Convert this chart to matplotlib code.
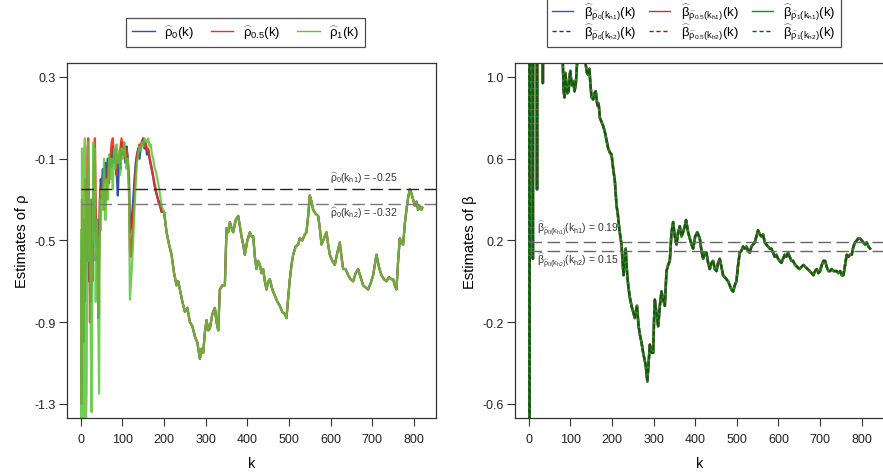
import matplotlib
matplotlib.use('Agg')
import matplotlib.pyplot as plt
from matplotlib.lines import Line2D

plt.rcParams['font.family'] = ['Liberation Sans', 'DejaVu Sans']
plt.rcParams['mathtext.fontset'] = 'custom'
plt.rcParams['mathtext.rm'] = 'Liberation Sans'
plt.rcParams['mathtext.it'] = 'Liberation Sans'
plt.rcParams['mathtext.bf'] = 'Liberation Sans:bold'

# ---- datos: estimaciones de rho (panel izquierdo) ----
head_k = [1, 2, 3, 4, 5, 6, 8, 10, 12, 14, 16, 18, 20, 22, 24, 26, 28, 30, 32, 34,
          36, 38, 40, 42, 44, 46, 48, 50,
          53, 56, 59, 62, 65, 68, 71, 74, 77, 80, 83, 86, 89, 92, 95, 98, 101, 104,
          107, 110, 113, 116, 118, 120,
          123, 126, 129, 132, 135, 138, 141, 144, 147, 150, 153, 156, 159, 162, 165,
          168, 171, 174, 177, 180,
          183, 186, 190, 194]

rho0_head = [-0.70, -1.20, -0.50, -0.90, -0.60, -1.00, -0.50, -0.80, -0.40, -0.60,
             -0.30, -0.50, -0.70, -0.55, -0.80, -0.70, -0.50, -0.60, -0.30, -0.45,
             -0.35, -0.50, -0.40, -0.88, -0.55, -0.30, -0.20, -0.25,
             -0.15, -0.22, -0.12, -0.20, -0.10, -0.17, -0.08, -0.14, -0.04, -0.12,
             -0.06, -0.16, -0.28, -0.10, -0.15, -0.02, -0.08, -0.05, -0.12, -0.04,
             -0.10, -0.20, -0.46, -0.44,
             -0.38, -0.30, -0.20, -0.12, -0.08, -0.05, -0.10, -0.04, -0.02, 0.00,
             -0.05, -0.03, -0.08, -0.06, -0.10, -0.13, -0.16, -0.19, -0.23, -0.26,
             -0.28, -0.30, -0.32, -0.36]

rho05_head = [-0.60, -1.30, -0.30, -0.90, -0.50, -0.80, -0.40, -0.70, -0.20, -0.50,
              -0.05, 0.00, -0.40, -0.90, -0.60, -0.30, -0.70, -0.20, -0.10, 0.00,
              -0.30, -0.60, -0.50, -0.85, -0.60, -0.30, -0.25, -0.30,
              -0.20, -0.35, -0.25, -0.30, -0.15, -0.22, -0.10, -0.02, 0.00, -0.10,
              -0.05, -0.18, -0.08, -0.12, -0.05, 0.00, -0.06, -0.02, -0.10, -0.05,
              -0.12, -0.25, -0.55, -0.58,
              -0.50, -0.38, -0.25, -0.15, -0.08, -0.06, -0.03, -0.05, -0.01, -0.02,
              -0.04, -0.02, -0.06, -0.05, -0.09, -0.12, -0.15, -0.19, -0.22, -0.25,
              -0.28, -0.31, -0.33, -0.36]

rho1_head = [-0.45, -1.45, -0.05, -1.20, -0.40, -1.45, -0.10, 0.00, -1.45, -1.23,
             -0.30, -0.02, -0.60, -0.30, -1.00, -1.34, -0.70, -0.02, -0.50, -0.05,
             -0.80, -0.40, -0.50, -0.90, -1.25, -0.30, -0.45, -0.25,
             -0.35, -0.10, -0.40, -0.20, -0.30, -0.08, -0.20, -0.10, -0.25, -0.05,
             -0.15, -0.03, -0.12, -0.06, -0.18, -0.05, -0.10, -0.02, -0.08, -0.15,
             -0.10, -0.30, -0.79, -0.72,
             -0.62, -0.50, -0.35, -0.22, -0.12, -0.08, -0.04, -0.06, -0.02, -0.04,
             0.00, -0.01, -0.02, 0.00, -0.04, -0.03, -0.08, -0.10, -0.14, -0.16,
             -0.19, -0.22, -0.27, -0.33]

# a partir de k=200 las tres curvas casi coinciden
tail_k = [200, 206, 212, 218, 224, 230, 234, 238, 244, 250,
          256, 262, 268, 274, 280, 286, 290, 294, 298, 302,
          306, 310, 316, 322, 326, 330, 334, 340, 346, 350,
          354, 358, 362, 366, 372, 378, 382, 386, 390, 394,
          400, 406, 410, 414, 418, 422, 426, 430, 434, 438,
          442, 446, 450, 454, 460, 466, 472, 478, 484, 490,
          494, 498, 502, 506, 510, 516, 522, 526, 532, 538,
          542, 546, 550, 554, 558, 564, 570, 574, 578, 584,
          590, 594, 598, 604, 610, 616, 622, 626, 630, 636,
          642, 648, 654, 660, 666, 672, 678, 684, 690, 696,
          702, 706, 710, 716, 722, 728, 734, 740, 746, 750,
          754, 758, 762, 766, 770, 774, 778, 782, 786, 790,
          794, 798, 802, 806, 810, 814, 818, 820]

rho_tail = [-0.36, -0.46, -0.52, -0.57, -0.66, -0.72, -0.70, -0.74, -0.80, -0.85,
            -0.83, -0.90, -0.92, -0.97, -1.00, -1.08, -1.03, -1.05, -0.95, -0.89,
            -0.94, -0.93, -0.86, -0.83, -0.90, -0.94, -0.74, -0.72, -0.72, -0.44,
            -0.46, -0.41, -0.44, -0.46, -0.40, -0.38, -0.43, -0.48, -0.52, -0.57,
            -0.50, -0.46, -0.48, -0.48, -0.58, -0.64, -0.60, -0.62, -0.66, -0.64,
            -0.70, -0.74, -0.70, -0.69, -0.74, -0.77, -0.80, -0.82, -0.85, -0.86,
            -0.88, -0.78, -0.69, -0.62, -0.57, -0.53, -0.52, -0.49, -0.50, -0.47,
            -0.46, -0.38, -0.28, -0.31, -0.35, -0.37, -0.38, -0.44, -0.52, -0.49,
            -0.46, -0.52, -0.57, -0.60, -0.62, -0.56, -0.51, -0.58, -0.64, -0.64,
            -0.67, -0.69, -0.70, -0.66, -0.64, -0.68, -0.72, -0.73, -0.74, -0.71,
            -0.67, -0.62, -0.57, -0.63, -0.67, -0.69, -0.70, -0.68, -0.69, -0.69,
            -0.72, -0.74, -0.60, -0.49, -0.51, -0.52, -0.42, -0.35, -0.29, -0.25,
            -0.27, -0.30, -0.33, -0.31, -0.35, -0.33, -0.35, -0.34]

rho_kh1 = -0.25
rho_kh2 = -0.32

# ---- datos: estimaciones de beta (panel derecho) ----
beta_k = [1, 2, 3, 4, 6, 9, 10, 11, 15, 19,
          20, 21, 26, 33, 34, 35, 45, 60, 75, 80,
          84, 86, 88, 90, 93, 96, 98, 100, 103, 107,
          110, 113, 116, 120, 125, 130, 134, 137, 140, 143,
          146, 148, 151, 155, 158, 161, 165, 168, 171, 175,
          179, 183, 187, 191, 195, 199, 203, 207, 211, 214,
          217, 220, 223, 226, 228, 230, 233, 236, 239, 243,
          247, 251, 255, 258, 260, 264, 267, 271, 275, 278,
          281, 285, 288, 291, 295, 299, 301, 303, 307, 311,
          315, 319, 323, 327, 331, 335, 339, 343, 347, 351,
          355, 359, 363, 367, 371, 375, 378, 383, 387, 391,
          395, 400, 405, 411, 415, 419, 423, 427, 431, 435,
          439, 443, 447, 451, 455, 459, 463, 467, 471, 475,
          479, 483, 487, 491, 495, 499, 503, 507, 511, 515,
          519, 523, 527, 531, 535, 539, 543, 547, 551, 555,
          559, 563, 567, 571, 575, 579, 583, 587, 591, 595,
          599, 603, 607, 611, 615, 619, 623, 627, 631, 635,
          640, 645, 650, 655, 660, 665, 670, 675, 680, 684,
          688, 692, 696, 700, 704, 708, 712, 716, 720, 724,
          728, 732, 736, 740, 744, 748, 752, 756, 760, 764,
          768, 772, 776, 780, 784, 788, 792, 796, 800, 804,
          808, 812, 816, 820]

beta_est = [3.00, -2.00, 3.00, 1.80, 2.00, 1.50, 0.11, 1.60, 1.80, 1.50,
            0.45, 1.60, 2.00, 1.50, 0.97, 1.40, 1.80, 1.60, 1.50, 1.20,
            0.93, 0.90, 1.02, 0.98, 0.92, 0.93, 1.00, 1.03, 0.96, 0.98,
            0.93, 0.96, 1.06, 1.15, 1.25, 1.20, 1.12, 1.06, 1.02, 1.01,
            1.04, 0.97, 0.90, 0.89, 0.92, 0.93, 0.86, 0.87, 0.80, 0.78,
            0.76, 0.73, 0.69, 0.65, 0.63, 0.62, 0.55, 0.49, 0.37, 0.33,
            0.27, 0.22, 0.18, 0.08, 0.03, 0.10, 0.16, 0.05, -0.02, -0.08,
            -0.12, -0.15, -0.18, -0.14, -0.12, -0.22, -0.26, -0.30, -0.35, -0.38,
            -0.41, -0.49, -0.40, -0.31, -0.35, -0.35, -0.20, -0.09, -0.16, -0.22,
            -0.12, -0.05, -0.09, -0.12, 0.05, 0.08, 0.10, 0.24, 0.29, 0.22,
            0.18, 0.24, 0.27, 0.22, 0.24, 0.27, 0.30, 0.24, 0.21, 0.18,
            0.16, 0.22, 0.24, 0.21, 0.15, 0.11, 0.14, 0.14, 0.09, 0.06,
            0.09, 0.10, 0.06, 0.05, 0.09, 0.11, 0.07, 0.03, 0.02, 0.01,
            0.00, -0.02, -0.04, -0.05, -0.02, 0.00, 0.08, 0.14, 0.15, 0.17,
            0.16, 0.17, 0.15, 0.14, 0.17, 0.18, 0.19, 0.22, 0.25, 0.23,
            0.22, 0.23, 0.19, 0.18, 0.17, 0.16, 0.16, 0.14, 0.12, 0.13,
            0.11, 0.10, 0.09, 0.11, 0.13, 0.12, 0.14, 0.12, 0.10, 0.10,
            0.08, 0.07, 0.06, 0.07, 0.08, 0.07, 0.06, 0.05, 0.04, 0.03,
            0.05, 0.06, 0.04, 0.05, 0.08, 0.10, 0.10, 0.07, 0.05, 0.05,
            0.06, 0.05, 0.05, 0.05, 0.04, 0.05, 0.03, 0.03, 0.08, 0.13,
            0.12, 0.13, 0.13, 0.17, 0.19, 0.20, 0.21, 0.21, 0.20, 0.19,
            0.18, 0.19, 0.17, 0.16]

beta_kh1 = 0.19
beta_kh2 = 0.15

# ---- figura ----
fig = plt.figure(figsize=(8.83, 4.77), dpi=100)
ax1 = fig.add_axes([0.0759, 0.1216, 0.4179, 0.7432])
ax2 = fig.add_axes([0.5832, 0.1216, 0.4177, 0.7432])

col_b, col_r, col_g = '#3050a8', '#e8301c', '#5cc43a'

rho_k = head_k + tail_k
ax1.plot(rho_k, rho0_head + rho_tail, color=col_b, lw=1.6)
ax1.plot(rho_k, rho05_head + rho_tail, color=col_r, lw=1.6, alpha=0.9)
ax1.plot(rho_k, rho1_head + rho_tail, color=col_g, lw=1.6, alpha=0.85)

ax1.hlines(rho_kh1, 0, 900, colors='#222222', lw=1.0, linestyles=(0, (9, 4)))
ax1.hlines(rho_kh2, 0, 900, colors='#777777', lw=1.0, linestyles=(0, (9, 4)))
ax1.text(680, -0.194, r'$\widehat{\rho}_0(k_{h1})$ = -0.25', fontsize=7.5,
         ha='center', va='center', color='#333333')
ax1.text(680, -0.365, r'$\widehat{\rho}_0(k_{h2})$ = -0.32', fontsize=7.5,
         ha='center', va='center', color='#333333')

ax1.set_xlim(-33, 853)
ax1.set_ylim(-1.369, 0.366)
ax1.set_yticks([0.3, -0.1, -0.5, -0.9, -1.3])
ax1.set_yticklabels(['0.3', '-0.1', '-0.5', '-0.9', '-1.3'])
ax1.set_ylabel('Estimates of ρ', fontsize=10.5)

handles1 = [Line2D([], [], color=col_b, lw=1.0),
            Line2D([], [], color=col_r, lw=1.0),
            Line2D([], [], color=col_g, lw=1.0)]
labels1 = [r'$\widehat{\rho}_0(k)$', r'$\widehat{\rho}_{0.5}(k)$',
           r'$\widehat{\rho}_1(k)$']
leg1 = ax1.legend(handles1, labels1, loc='lower center', bbox_to_anchor=(0.484, 1.0465),
                  ncol=3, fontsize=9.5, frameon=True, fancybox=False, borderaxespad=0,
                  handlelength=1.7, columnspacing=1.3, handletextpad=0.7, borderpad=0.45)
leg1.get_frame().set_edgecolor('#222222')
leg1.get_frame().set_linewidth(0.9)

# panel derecho
cols_h1 = ['#4a4ac0', '#d42a2a', '#139613']
cols_h2 = ['#2a2a90', '#8a1a1a', '#0c5e0c']
for c in cols_h1:
    ax2.plot(beta_k, beta_est, color=c, lw=1.8)
for c in cols_h2:
    ax2.plot(beta_k, beta_est, color=c, lw=1.0, linestyle=(0, (3, 2)))

ax2.hlines(beta_kh1, 0, 900, colors='#666666', lw=1.0, linestyles=(0, (9, 4)))
ax2.hlines(beta_kh2, 0, 900, colors='#666666', lw=1.0, linestyles=(0, (9, 4)))
ax2.text(21, 0.258, r'$\widehat{\beta}_{\widehat{\rho}_0(k_{h1})}(k_{h1})$ = 0.19', fontsize=7.5,
         ha='left', va='center', color='#333333')
ax2.text(21, 0.10, r'$\widehat{\beta}_{\widehat{\rho}_0(k_{h2})}(k_{h2})$ = 0.15', fontsize=7.5,
         ha='left', va='center', color='#333333')

ax2.set_xlim(-33, 853)
ax2.set_ylim(-0.669, 1.066)
ax2.set_yticks([1.0, 0.6, 0.2, -0.2, -0.6])
ax2.set_yticklabels(['1.0', '0.6', '0.2', '-0.2', '-0.6'])
ax2.set_ylabel('Estimates of β', fontsize=10.5)

handles2 = []
labels2 = []
names = ['0', '0.5', '1']
for i in range(3):
    handles2.append(Line2D([], [], color=cols_h1[i], lw=1.0))
    labels2.append(r'$\widehat{\beta}_{\widehat{\rho}_{%s}(k_{h1})}(k)$' % names[i])
    handles2.append(Line2D([], [], color=cols_h2[i], lw=1.0, linestyle=(0, (3, 2))))
    labels2.append(r'$\widehat{\beta}_{\widehat{\rho}_{%s}(k_{h2})}(k)$' % names[i])
leg2 = ax2.legend(handles2, labels2, loc='lower center', bbox_to_anchor=(0.485, 1.0465),
                  ncol=3, fontsize=9.5, frameon=True, fancybox=False, borderaxespad=0,
                  handlelength=1.6, columnspacing=1.0, handletextpad=0.8,
                  labelspacing=0.0, borderpad=0.4)
leg2.get_frame().set_edgecolor('#222222')
leg2.get_frame().set_linewidth(0.9)

for ax in (ax1, ax2):
    ax.set_xticks(range(0, 801, 100))
    ax.set_xlabel('k', fontsize=10.5, labelpad=8)
    ax.tick_params(direction='out', length=6, width=0.8, color='#333333',
                   labelsize=9, labelcolor='#222222')
    ax.tick_params(axis='x', pad=5)
    ax.tick_params(axis='y', pad=2)
    for s in ax.spines.values():
        s.set_color('#333333')
        s.set_linewidth(0.9)

fig.savefig('out.png', dpi=100)
